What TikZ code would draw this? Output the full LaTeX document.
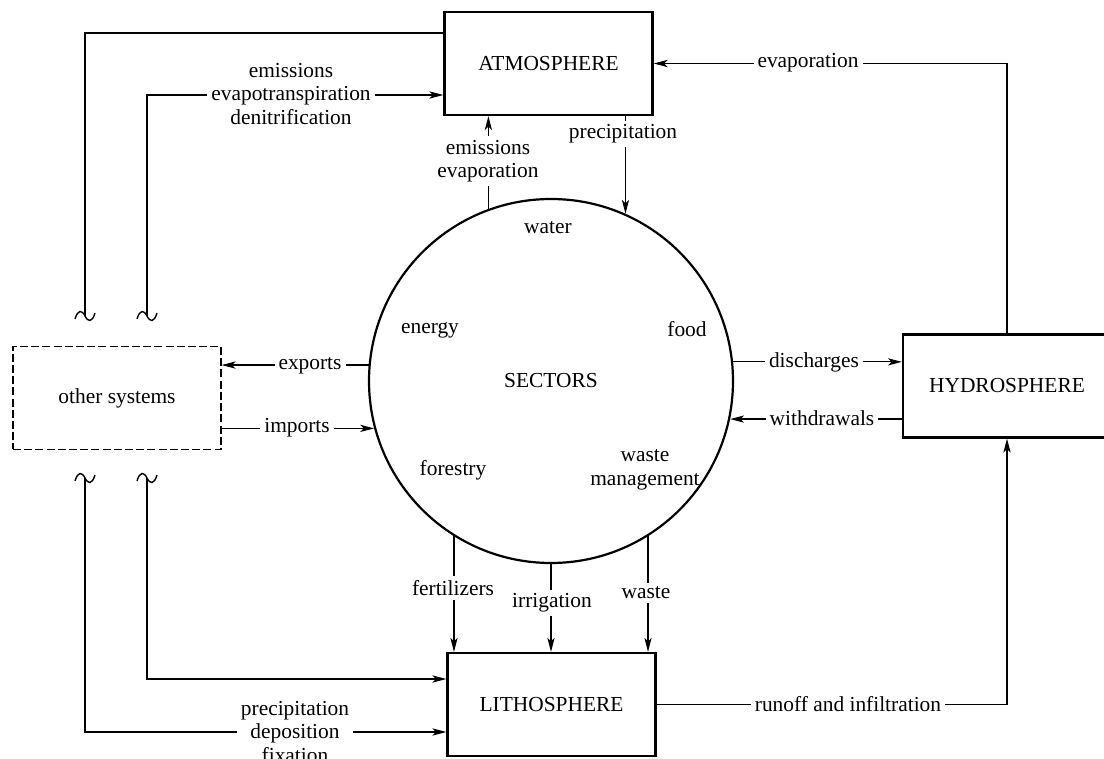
\documentclass[tikz,border=0pt]{standalone}
\usepackage{fontspec}
\setmainfont{Liberation Serif}
\usetikzlibrary{arrows.meta, positioning, calc}

\begin{document}
\begin{tikzpicture}[x=0.5pt, y=-0.5pt,
  font=\fontsize{10.7}{11.8}\selectfont,
  sphere/.style={draw, line width=1.1pt, minimum width=104pt, minimum height=51.5pt, inner sep=0pt},
  flow/.style={line width=0.6pt, -{Stealth[length=7pt, width=3.6pt, inset=1.8pt]}},
  link/.style={line width=0.6pt},
  lbl/.style={fill=white, inner sep=2pt, align=center},
  brk/.pic={\draw[line width=0.7pt] (-10,3) .. controls (-7,-7) and (-3,-6) .. (0,0) .. controls (3,6) and (7,7) .. (10,-3);}]
  \useasboundingbox (0,0) rectangle (1104,759);

  % Spheres
  \node[sphere] (atm) at (548.5,63.5) {ATMOSPHERE};
  \node[sphere] (hyd) at (1007,386) {HYDROSPHERE};
  \node[sphere] (lith) at (551.5,704.5) {LITHOSPHERE};
  \node[sphere, dash pattern=on 4pt off 1.6pt, line width=0.6pt] (oth) at (117,398) {other systems};

  % Sectors
  \node[circle, draw, line width=1.1pt, minimum size=182pt, inner sep=0pt] (sec) at (551,381) {SECTORS};
  \node (water) at (548,228) {water};
  \node (energy) at (430,330) {energy};
  \node (food) at (687,329) {food};
  \node (forestry) at (453,470) {forestry};
  \node[align=center] (wastemg) at (645,470) {waste\\management};

  % Breaks
  \coordinate (brkUL) at (85,316);
  \coordinate (brkUR) at (147,316);
  \coordinate (brkLL) at (85,478);
  \coordinate (brkLR) at (147,478);
  \foreach \b in {brkUL, brkUR, brkLL, brkLR}
    \pic at (\b) {brk};

  % Atmosphere flows
  \draw[link] (atm.west |- 0,33) -| (brkUL);
  \draw[flow] (brkUR) |- (atm.west |- 0,95);
  \node[lbl] at (291,94) {emissions\\evapotranspiration\\denitrification};
  \draw[flow] (hyd.north) |- (atm.east);
  \node[lbl] at (808,63) {evaporation};
  \draw[flow] (sec.110) -- (sec.110 |- atm.south);
  \node[lbl] at (488,161) {emissions\\evaporation};
  \draw[flow] (atm.south -| sec.66) -- (sec.66);
  \node[lbl] at (623,134) {precipitation};

  % Hydrosphere flows
  \draw[flow] (sec.6) -- (sec.6 -| hyd.west);
  \node[lbl] at (814,362) {discharges};
  \draw[flow] (sec.348 -| hyd.west) -- (sec.348);
  \node[lbl] at (822,418) {withdrawals};

  % Other systems
  \draw[flow] (sec.175) -- (sec.175 -| oth.east);
  \node[lbl] at (310,366) {exports};
  \draw[flow] (oth.east |- sec.195) -- (sec.195);
  \node[lbl] at (297,428) {imports};

  % Lithosphere flows
  \draw[flow] (sec.238) -- (sec.238 |- lith.north);
  \node[lbl] at (453,588) {fertilizers};
  \draw[flow] (sec.270) -- (sec.270 |- lith.north);
  \node[lbl] at (552,603) {irrigation};
  \draw[flow] (sec.302) -- (sec.302 |- lith.north);
  \node[lbl] at (646,593) {waste};
  \draw[flow] (brkLR) |- (lith.west |- 0,679);
  \draw[flow] (brkLL) |- (lith.west |- 0,732);
  \node[lbl] at (295,732) {precipitation\\deposition\\fixation};
  \draw[flow] (lith.east) -| (hyd.south);
  \node[lbl] at (848,704) {runoff and infiltration};
\end{tikzpicture}
\end{document}
